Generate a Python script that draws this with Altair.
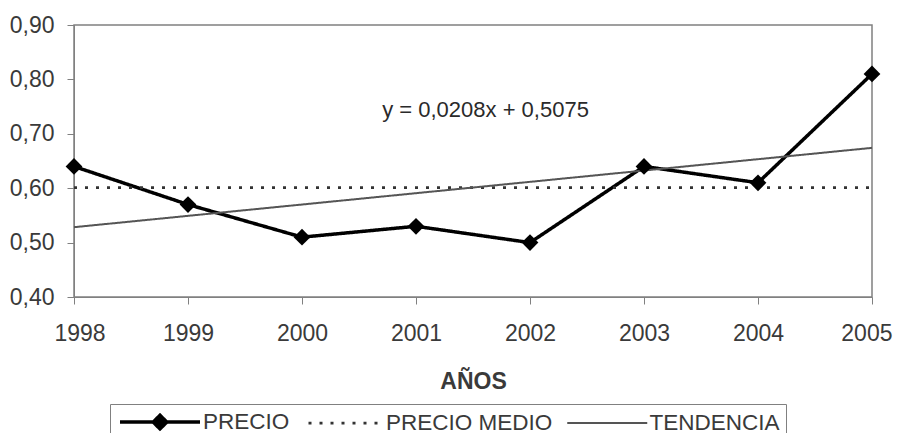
import altair as alt
import pandas as pd
import numpy as np

years = [1998, 1999, 2000, 2001, 2002, 2003, 2004, 2005]
precio = [0.64, 0.57, 0.51, 0.53, 0.50, 0.64, 0.61, 0.81]
series_names = ["PRECIO", "PRECIO MEDIO", "TENDENCIA"]
equation = "y = 0,0208x + 0,5075"

mean_val = float(np.mean(precio))
idx = np.arange(1, len(years) + 1)
slope, intercept = np.polyfit(idx, precio, 1)
trend = list(intercept + slope * idx)

rows = []
for y, p in zip(years, precio):
    rows.append({"year": y, "value": p, "series": "PRECIO"})
for y in years:
    rows.append({"year": y, "value": mean_val, "series": "PRECIO MEDIO"})
for y, t in zip(years, trend):
    rows.append({"year": y, "value": t, "series": "TENDENCIA"})
df = pd.DataFrame(rows)
pts = pd.DataFrame({"year": years, "value": precio})
eq_df = pd.DataFrame({"year": [2001.61], "value": [0.744], "label": [equation]})

FONT = "Liberation Sans"
TXT = "#3a3a3a"
xscale = alt.Scale(domain=[1998, 2005], nice=False, zero=False)
yscale = alt.Scale(domain=[0.4, 0.9], nice=False, zero=False)

legend = alt.Legend(
    orient="none", legendX=36, legendY=379, direction="horizontal", title=None,
    symbolSize=400, symbolOffset=32, strokeColor="#808080", padding=6, labelFontSize=22.5,
    labelFont=FONT, labelColor=TXT, columnPadding=10, labelLimit=0, labelOffset=31,
    symbolOpacity=1,
)

color_scale = alt.Scale(domain=series_names, range=["black", "#333333", "#555555"])
shape_scale = alt.Scale(domain=series_names, range=[
    "M-4,0H4M-0.68,0L0,-0.68L0.68,0L0,0.68Z", "M-3.5,0H3.6", "M-4,0H4"])

lines = alt.Chart(df).mark_line().encode(
    x=alt.X("year:Q", scale=xscale, axis=alt.Axis(
        values=years, format="d", title="AÑOS", titleFontWeight="bold",
        titleFontSize=23, titleFont=FONT, titleColor=TXT, titlePadding=25,
        labelFontSize=23, labelFont=FONT, labelColor=TXT, labelPadding=18,
        tickSize=7, tickColor="#808080", domainColor="#808080", grid=False,
        labelFlush=True, labelFlushOffset=20)),
    y=alt.Y("value:Q", scale=yscale, axis=alt.Axis(
        values=[0.4, 0.5, 0.6, 0.7, 0.8, 0.9], title=None,
        labelExpr="replace(format(datum.value, '.2f'), '.', ',')",
        labelFontSize=23, labelFont=FONT, labelColor=TXT, labelPadding=13,
        tickSize=7, tickColor="#808080", domainColor="#808080", grid=False)),
    color=alt.Color("series:N", scale=color_scale, legend=legend),
    strokeDash=alt.StrokeDash("series:N", scale=alt.Scale(domain=series_names, range=[[1, 0], [3, 8], [1, 0]]), legend=legend),
    strokeWidth=alt.StrokeWidth("series:N", scale=alt.Scale(domain=series_names, range=[3.5, 2, 1.2]), legend=legend),
    detail="series:N",
)

ghost = alt.Chart(df).mark_point(opacity=0, filled=True).encode(
    x=alt.X("year:Q", scale=xscale),
    y=alt.Y("value:Q", scale=yscale),
    color=alt.Color("series:N", scale=color_scale, legend=legend),
    shape=alt.Shape("series:N", scale=shape_scale, legend=legend),
)

points = alt.Chart(pts).mark_point(shape="diamond", filled=True, size=280, color="black", opacity=1).encode(
    x=alt.X("year:Q", scale=xscale),
    y=alt.Y("value:Q", scale=yscale),
)

text = alt.Chart(eq_df).mark_text(fontSize=22, font=FONT, color="#2a2a2a").encode(
    x=alt.X("year:Q", scale=xscale),
    y=alt.Y("value:Q", scale=yscale),
    text="label:N",
)

chart = alt.layer(lines, ghost, points, text).properties(
    width=798, height=272,
    autosize=alt.AutoSizeParams(type="none"),
    padding={"left": 66, "top": 17, "right": 21, "bottom": 136},
).configure_view(stroke="#808080", strokeWidth=1.5)

chart.save("out.html", embed_options={"renderer": "svg", "actions": False})
